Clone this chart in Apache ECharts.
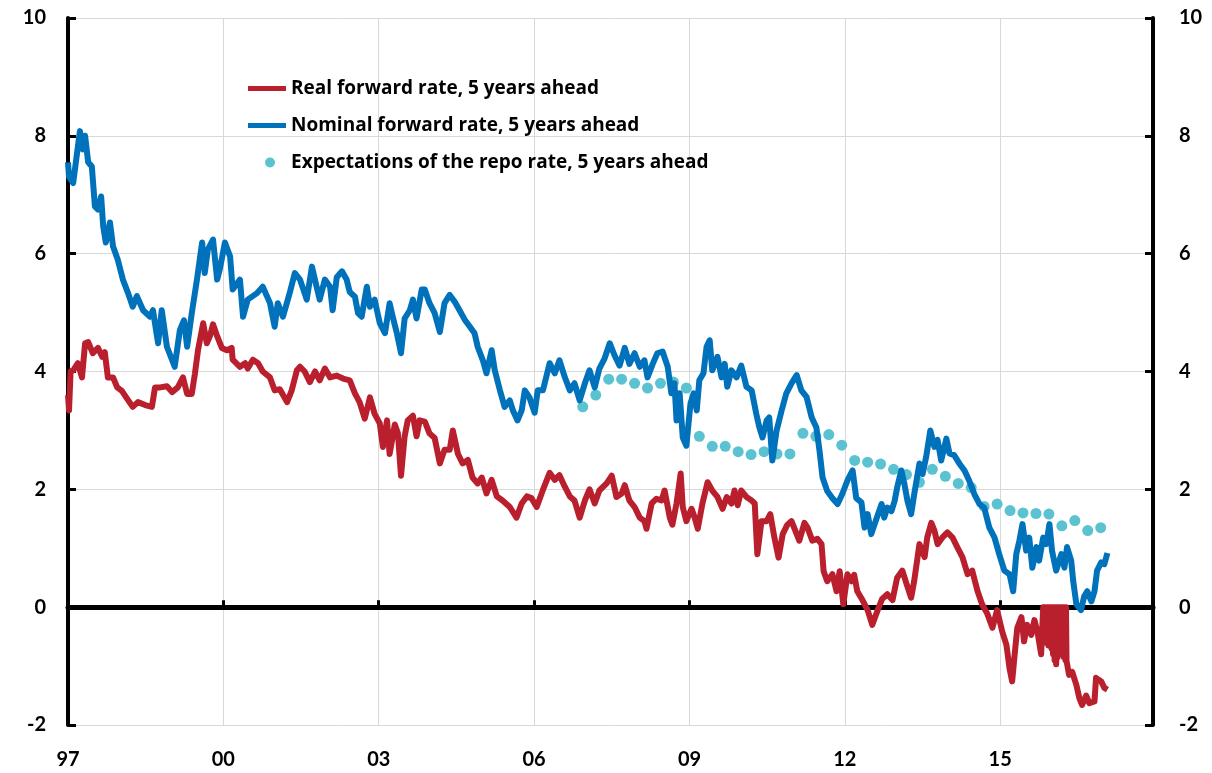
<!DOCTYPE html>
<html>
<head>
<meta charset="utf-8">
<script src="https://cdn.jsdelivr.net/npm/echarts@6/dist/echarts.min.js"></script>
<style>
  html, body { margin: 0; padding: 0; background: #fff; }
  #chart { width: 1212px; height: 773px; }
</style>
</head>
<body>
<div id="chart"></div>
<script>
// decimal year, percent
const realRate = [
  [1997.00, 3.6], [1997.02, 3.34], [1997.05, 4.0], [1997.10, 4.02], [1997.19, 4.14], [1997.27, 3.9],
  [1997.33, 4.48], [1997.39, 4.5], [1997.48, 4.31], [1997.58, 4.4], [1997.66, 4.25], [1997.71, 4.33],
  [1997.77, 3.9], [1997.87, 3.9], [1997.95, 3.73], [1998.04, 3.67], [1998.14, 3.54], [1998.25, 3.4],
  [1998.35, 3.48], [1998.49, 3.43], [1998.62, 3.4], [1998.68, 3.73], [1998.78, 3.73], [1998.91, 3.75],
  [1999.01, 3.65], [1999.12, 3.73], [1999.22, 3.9], [1999.30, 3.62], [1999.39, 3.62], [1999.45, 3.96],
  [1999.51, 4.36], [1999.61, 4.82], [1999.68, 4.48], [1999.74, 4.6], [1999.80, 4.8], [1999.88, 4.6],
  [1999.97, 4.4], [2000.07, 4.36], [2000.16, 4.4], [2000.18, 4.2], [2000.32, 4.08], [2000.42, 4.14],
  [2000.47, 4.05], [2000.57, 4.2], [2000.67, 4.14], [2000.76, 4.0], [2000.90, 3.9], [2000.99, 3.68],
  [2001.09, 3.7], [2001.23, 3.48], [2001.32, 3.68], [2001.42, 4.02], [2001.48, 4.08], [2001.57, 4.0],
  [2001.67, 3.82], [2001.77, 4.0], [2001.86, 3.85], [2001.96, 4.05], [2002.06, 3.9], [2002.19, 3.93],
  [2002.31, 3.88], [2002.44, 3.85], [2002.54, 3.63], [2002.63, 3.48], [2002.73, 3.2], [2002.83, 3.56],
  [2002.92, 3.28], [2003.02, 3.12], [2003.08, 2.72], [2003.16, 3.17], [2003.21, 2.6], [2003.31, 3.1],
  [2003.37, 2.95], [2003.43, 2.23], [2003.50, 2.9], [2003.56, 3.17], [2003.66, 3.25], [2003.73, 2.9],
  [2003.79, 3.17], [2003.89, 3.15], [2003.98, 2.95], [2004.08, 2.87], [2004.18, 2.44], [2004.27, 2.67],
  [2004.37, 2.67], [2004.43, 3.0], [2004.53, 2.6], [2004.62, 2.44], [2004.72, 2.5], [2004.81, 2.2],
  [2004.91, 2.1], [2004.99, 2.2], [2005.08, 1.93], [2005.18, 2.16], [2005.28, 1.88], [2005.39, 1.81],
  [2005.53, 1.7], [2005.66, 1.52], [2005.76, 1.76], [2005.86, 1.88], [2005.95, 1.85], [2006.05, 1.7],
  [2006.17, 1.99], [2006.30, 2.28], [2006.40, 2.16], [2006.49, 2.24], [2006.59, 2.05], [2006.69, 1.88],
  [2006.78, 1.81], [2006.88, 1.52], [2006.98, 1.81], [2007.07, 2.0], [2007.17, 1.76], [2007.26, 1.98],
  [2007.40, 2.1], [2007.50, 2.23], [2007.59, 1.87], [2007.69, 1.93], [2007.75, 2.07], [2007.84, 1.81],
  [2007.94, 1.7], [2008.04, 1.52], [2008.13, 1.46], [2008.17, 1.33], [2008.27, 1.76], [2008.36, 1.84],
  [2008.46, 1.81], [2008.52, 1.98], [2008.62, 1.52], [2008.67, 1.4], [2008.75, 1.76], [2008.83, 2.27],
  [2008.87, 1.7], [2008.94, 1.46], [2009.04, 1.67], [2009.10, 1.52], [2009.16, 1.33], [2009.25, 1.76],
  [2009.35, 2.12], [2009.44, 1.98], [2009.54, 1.87], [2009.64, 1.67], [2009.72, 1.87], [2009.81, 1.76],
  [2009.87, 1.98], [2009.93, 1.73], [2010.00, 1.98], [2010.10, 1.87], [2010.20, 1.81], [2010.26, 1.76],
  [2010.31, 0.9], [2010.39, 1.46], [2010.49, 1.46], [2010.56, 1.58], [2010.64, 1.18], [2010.72, 0.84],
  [2010.80, 1.24], [2010.89, 1.4], [2010.97, 1.46], [2011.07, 1.24], [2011.12, 1.13], [2011.22, 1.43],
  [2011.28, 1.35], [2011.37, 1.13], [2011.47, 1.16], [2011.55, 1.07], [2011.59, 0.61], [2011.66, 0.44],
  [2011.76, 0.56], [2011.84, 0.27], [2011.90, 0.61], [2011.97, 0.05], [2012.05, 0.56], [2012.13, 0.44],
  [2012.18, 0.55], [2012.24, 0.27], [2012.34, 0.12], [2012.44, -0.05], [2012.53, -0.3], [2012.63, -0.06],
  [2012.72, 0.14], [2012.82, 0.22], [2012.92, 0.12], [2013.01, 0.5], [2013.11, 0.62], [2013.19, 0.4],
  [2013.28, 0.16], [2013.34, 0.45], [2013.44, 1.07], [2013.54, 0.85], [2013.59, 1.18], [2013.67, 1.43],
  [2013.73, 1.3], [2013.79, 1.07], [2013.88, 1.18], [2013.98, 1.27], [2014.08, 1.18], [2014.17, 1.02],
  [2014.27, 0.85], [2014.37, 0.56], [2014.46, 0.62], [2014.56, 0.28], [2014.65, 0.05], [2014.75, -0.11],
  [2014.85, -0.35], [2014.94, -0.05], [2015.04, -0.42], [2015.12, -0.64], [2015.18, -1.04], [2015.23, -1.26],
  [2015.29, -0.7], [2015.33, -0.35], [2015.41, -0.17], [2015.46, -0.58], [2015.52, -0.3], [2015.60, -0.47],
  [2015.66, -0.22], [2015.72, -0.42], [2015.79, -0.8],
  // stretch where the daily data keeps dropping back to zero
  [2015.83, 0], [2015.84, -0.5], [2015.85, 0], [2015.87, -0.6], [2015.88, 0], [2015.90, -0.55],
  [2015.91, 0], [2015.93, -0.65], [2015.94, 0], [2015.96, -0.6], [2015.97, 0], [2015.99, -0.7],
  [2016.00, 0], [2016.02, -0.8], [2016.03, 0], [2016.05, -0.9], [2016.06, 0], [2016.08, -0.97],
  [2016.09, 0], [2016.11, -0.85], [2016.12, 0], [2016.14, -0.8], [2016.15, 0], [2016.17, -0.75],
  [2016.18, 0], [2016.20, -0.8], [2016.21, 0], [2016.23, -0.85], [2016.24, 0], [2016.26, -0.9],
  [2016.27, 0], [2016.28, -0.91],
  [2016.33, -1.15], [2016.39, -1.1], [2016.47, -1.32], [2016.53, -1.55], [2016.58, -1.66], [2016.66, -1.5],
  [2016.72, -1.63], [2016.82, -1.6], [2016.85, -1.2], [2016.95, -1.26], [2017.01, -1.37], [2017.07, -1.4]
]

const nominalRate = [
  [1997.00, 7.55], [1997.02, 7.3], [1997.10, 7.2], [1997.23, 8.08], [1997.29, 7.77], [1997.33, 8.0],
  [1997.39, 7.55], [1997.46, 7.48], [1997.52, 6.8], [1997.58, 6.75], [1997.64, 6.97], [1997.68, 6.46],
  [1997.73, 6.19], [1997.81, 6.53], [1997.87, 6.12], [1997.96, 5.9], [1998.06, 5.56], [1998.16, 5.33],
  [1998.25, 5.1], [1998.33, 5.28], [1998.45, 5.04], [1998.58, 4.93], [1998.64, 5.04], [1998.74, 4.48],
  [1998.81, 5.04], [1998.91, 4.42], [1999.06, 4.08], [1999.16, 4.7], [1999.24, 4.87], [1999.30, 4.42],
  [1999.39, 4.99], [1999.49, 5.56], [1999.59, 6.19], [1999.64, 5.67], [1999.70, 6.07], [1999.80, 6.24],
  [1999.88, 5.56], [1999.93, 5.73], [2000.03, 6.19], [2000.13, 5.95], [2000.18, 5.39], [2000.32, 5.56],
  [2000.38, 4.93], [2000.47, 5.22], [2000.65, 5.33], [2000.76, 5.44], [2000.90, 5.16], [2000.99, 4.76],
  [2001.05, 5.16], [2001.15, 4.93], [2001.28, 5.33], [2001.38, 5.67], [2001.48, 5.56], [2001.61, 5.22],
  [2001.71, 5.78], [2001.80, 5.44], [2001.86, 5.22], [2001.96, 5.56], [2002.06, 5.44], [2002.11, 5.04],
  [2002.19, 5.6], [2002.29, 5.7], [2002.38, 5.56], [2002.44, 5.35], [2002.54, 5.27], [2002.60, 4.99],
  [2002.67, 4.93], [2002.77, 5.44], [2002.83, 5.1], [2002.92, 5.22], [2003.02, 4.82], [2003.12, 4.65],
  [2003.21, 5.16], [2003.27, 4.93], [2003.35, 4.65], [2003.43, 4.31], [2003.50, 4.9], [2003.60, 5.04],
  [2003.66, 5.22], [2003.73, 4.9], [2003.83, 5.39], [2003.89, 5.39], [2003.98, 5.16], [2004.08, 4.99],
  [2004.18, 4.67], [2004.27, 5.16], [2004.37, 5.3], [2004.47, 5.18], [2004.56, 5.04], [2004.66, 4.88],
  [2004.76, 4.76], [2004.85, 4.65], [2004.91, 4.42], [2005.01, 4.19], [2005.08, 3.97], [2005.18, 4.36],
  [2005.24, 4.02], [2005.34, 3.68], [2005.43, 3.4], [2005.53, 3.51], [2005.59, 3.34], [2005.68, 3.17],
  [2005.76, 3.34], [2005.82, 3.68], [2005.91, 3.56], [2006.01, 3.3], [2006.07, 3.68], [2006.17, 3.68],
  [2006.30, 4.14], [2006.40, 3.97], [2006.49, 4.19], [2006.59, 3.91], [2006.69, 3.68], [2006.78, 3.8],
  [2006.88, 3.51], [2006.98, 3.8], [2007.07, 4.02], [2007.17, 3.73], [2007.26, 4.05], [2007.36, 4.22],
  [2007.46, 4.48], [2007.55, 4.28], [2007.65, 4.1], [2007.75, 4.4], [2007.84, 4.13], [2007.94, 4.31],
  [2008.04, 4.08], [2008.13, 4.19], [2008.19, 3.9], [2008.29, 4.13], [2008.38, 4.31], [2008.48, 4.34],
  [2008.58, 4.08], [2008.65, 3.63], [2008.71, 3.8], [2008.75, 3.17], [2008.81, 3.63], [2008.87, 2.88],
  [2008.94, 2.74], [2009.02, 3.46], [2009.08, 3.63], [2009.14, 3.34], [2009.19, 3.85], [2009.27, 3.97],
  [2009.33, 4.42], [2009.39, 4.53], [2009.44, 4.02], [2009.54, 4.25], [2009.62, 3.9], [2009.68, 4.13],
  [2009.73, 3.74], [2009.81, 4.02], [2009.91, 3.9], [2010.00, 4.1], [2010.10, 3.74], [2010.20, 3.68],
  [2010.29, 3.28], [2010.35, 3.05], [2010.41, 2.88], [2010.49, 3.17], [2010.54, 3.22], [2010.60, 2.49],
  [2010.68, 2.99], [2010.78, 3.34], [2010.87, 3.63], [2010.97, 3.8], [2011.07, 3.94], [2011.16, 3.68],
  [2011.26, 3.57], [2011.36, 3.22], [2011.45, 3.05], [2011.51, 2.66], [2011.57, 2.2], [2011.66, 1.97],
  [2011.76, 1.85], [2011.86, 1.75], [2011.95, 1.92], [2012.05, 2.15], [2012.15, 2.32], [2012.22, 1.85],
  [2012.32, 1.78], [2012.38, 1.35], [2012.44, 1.58], [2012.51, 1.24], [2012.61, 1.5], [2012.71, 1.75],
  [2012.76, 1.52], [2012.82, 1.69], [2012.90, 1.63], [2012.96, 1.8], [2013.01, 2.03], [2013.09, 2.32],
  [2013.15, 2.09], [2013.21, 1.8], [2013.28, 1.58], [2013.34, 1.92], [2013.44, 2.44], [2013.50, 2.26],
  [2013.57, 2.55], [2013.65, 3.0], [2013.73, 2.72], [2013.79, 2.84], [2013.86, 2.49], [2013.96, 2.86],
  [2014.02, 2.61], [2014.11, 2.58], [2014.21, 2.44], [2014.31, 2.32], [2014.40, 2.15], [2014.50, 1.92],
  [2014.60, 1.75], [2014.69, 1.69], [2014.79, 1.35], [2014.89, 1.18], [2014.98, 0.9], [2015.08, 0.62],
  [2015.18, 0.56], [2015.25, 0.27], [2015.31, 0.9], [2015.37, 1.13], [2015.43, 1.41], [2015.50, 0.96],
  [2015.56, 1.18], [2015.62, 0.67], [2015.70, 1.02], [2015.75, 0.79], [2015.83, 1.18], [2015.89, 1.07],
  [2015.95, 1.41], [2016.00, 0.96], [2016.08, 0.62], [2016.18, 0.9], [2016.24, 0.67], [2016.29, 1.02],
  [2016.37, 0.79], [2016.41, 0.44], [2016.47, 0.05], [2016.56, -0.05], [2016.62, 0.18], [2016.68, 0.27],
  [2016.76, 0.1], [2016.82, 0.27], [2016.87, 0.62], [2016.95, 0.76], [2017.01, 0.73], [2017.07, 0.92]
]

// quarterly survey
const repoDates = [
  2006.94, 2007.19, 2007.44, 2007.69, 2007.94, 2008.19, 2008.44, 2008.69, 2008.94, 2009.19, 2009.44,
  2009.69, 2009.94, 2010.19, 2010.44, 2010.69, 2010.94, 2011.19, 2011.44, 2011.69, 2011.94, 2012.19,
  2012.44, 2012.69, 2012.94, 2013.19, 2013.44, 2013.69, 2013.94, 2014.19, 2014.44, 2014.69, 2014.94,
  2015.19, 2015.44, 2015.69, 2015.94, 2016.19, 2016.44, 2016.69, 2016.94
]
const repoExpect = [
  3.4, 3.6, 3.87, 3.87, 3.8, 3.72, 3.8, 3.82, 3.72, 2.9, 2.73,
  2.73, 2.64, 2.59, 2.64, 2.6, 2.6, 2.95, 2.9, 2.93, 2.75, 2.49,
  2.46, 2.43, 2.34, 2.25, 2.12, 2.34, 2.22, 2.1, 2.03, 1.71, 1.75,
  1.64, 1.6, 1.59, 1.58, 1.38, 1.47, 1.3, 1.35
]

const yTicks = [-2, 0, 2, 4, 6, 8, 10]
const START_YEAR = 1997
const END_YEAR = 2017.95

const names = [
  'Real forward rate, 5 years ahead',
  'Nominal forward rate, 5 years ahead',
  'Expectations of the repo rate, 5 years ahead',
]

const FONT = 'Lato'
const LEGEND_FONT = 'Open Sans'
const toAxis = pts => pts.map(p => [p[0] - START_YEAR, p[1]])

const chart = echarts.init(document.getElementById('chart'))

const yAxisBase = {
  type: 'value',
  min: yTicks[0],
  max: yTicks[yTicks.length - 1],
  interval: 2,
  axisLine: { show: true, onZero: false, lineStyle: { color: '#000', width: 4 } },
  axisTick: { show: true, inside: true, length: 8, lineStyle: { color: '#000', width: 3 } },
  axisLabel: { color: '#000', fontFamily: FONT, fontWeight: 'bold', fontSize: 20 },
}

const legendText = { color: '#000', fontFamily: LEGEND_FONT, fontWeight: 'bold', fontSize: 19 }

chart.setOption({
  animation: false,
  backgroundColor: '#fff',
  grid: { left: 68, right: 59, top: 18, bottom: 48 },
  legend: [
    {
      data: [names[0], names[1]],
      orient: 'vertical',
      left: 243,
      top: 74,
      icon: 'rect',
      itemWidth: 38,
      itemHeight: 5,
      itemGap: 18,
      selectedMode: false,
      textStyle: legendText,
    },
    {
      data: [names[2]],
      orient: 'vertical',
      left: 260,
      top: 148,
      icon: 'circle',
      itemWidth: 10,
      itemHeight: 10,
      selectedMode: false,
      textStyle: { ...legendText, padding: [0, 0, 0, 11] },
    },
  ],
  xAxis: [
    {
      type: 'value',
      position: 'bottom',
      min: 0,
      max: END_YEAR - START_YEAR,
      interval: 3,
      axisLine: { show: false, onZero: false },
      axisTick: { show: false },
      axisLabel: {
        color: '#000', fontFamily: FONT, fontWeight: 'bold', fontSize: 20, margin: 25,
        showMaxLabel: false,
        formatter: v => String((START_YEAR + Math.round(v)) % 100).padStart(2, '0'),
      },
      splitLine: { show: true, lineStyle: { color: '#d9d9d9', width: 1 } },
    },
    {
      // thick zero line with the small year ticks
      type: 'value',
      position: 'bottom',
      min: 0,
      max: END_YEAR - START_YEAR,
      interval: 3,
      axisLine: { show: true, onZero: true, lineStyle: { color: '#000', width: 5 } },
      axisTick: { show: true, inside: true, length: 7, lineStyle: { color: '#000', width: 3 } },
      axisLabel: { show: false },
      splitLine: { show: false },
    },
  ],
  yAxis: [
    {
      ...yAxisBase,
      position: 'left',
      axisLabel: { ...yAxisBase.axisLabel, margin: 22 },
      splitLine: { show: true, lineStyle: { color: '#d9d9d9', width: 1 } },
    },
    {
      ...yAxisBase,
      position: 'right',
      axisLabel: { ...yAxisBase.axisLabel, margin: 26 },
      splitLine: { show: false },
    },
  ],
  series: [
    {
      name: names[0],
      type: 'line',
      symbol: 'none',
      lineStyle: { color: '#BA1F2D', width: 6, join: 'round' },
      itemStyle: { color: '#BA1F2D' },
      data: toAxis(realRate),
    },
    {
      name: names[1],
      type: 'line',
      symbol: 'none',
      lineStyle: { color: '#0071BB', width: 6, join: 'round' },
      itemStyle: { color: '#0071BB' },
      data: toAxis(nominalRate),
    },
    {
      name: names[2],
      type: 'scatter',
      symbolSize: 11,
      itemStyle: { color: '#5BC2D1', opacity: 1 },
      data: repoDates.map((d, i) => [d - START_YEAR, repoExpect[i]]),
    },
  ],
})
</script>
</body>
</html>
